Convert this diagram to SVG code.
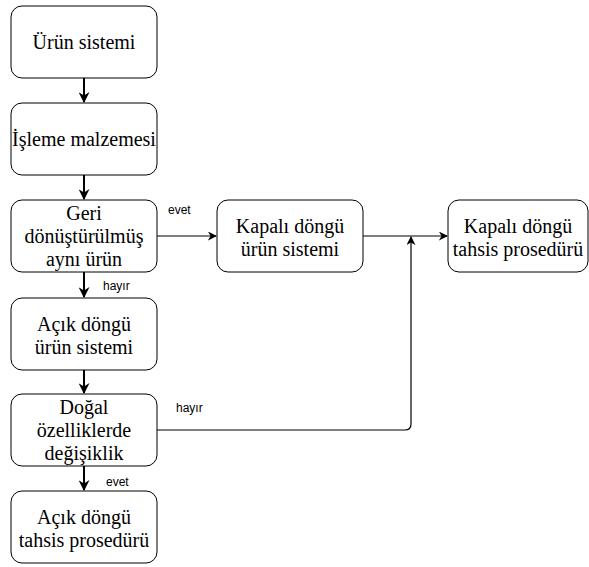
<svg xmlns="http://www.w3.org/2000/svg" width="589" height="567" viewBox="0 0 589 567">
  <defs>
    <!-- filled arrowhead for thin connectors -->
    <marker id="arr" viewBox="0 0 10 10" refX="9" refY="5" markerWidth="9" markerHeight="9" markerUnits="userSpaceOnUse" orient="auto">
      <path d="M0,0 L10,5 L0,10 L3,5 Z" fill="#000"/>
    </marker>
    <!-- filled arrowhead for the thick vertical flow -->
    <marker id="arrB" viewBox="0 0 10 10" refX="9" refY="5" markerWidth="11" markerHeight="11" markerUnits="userSpaceOnUse" orient="auto">
      <path d="M0,0 L10,5 L0,10 L3,5 Z" fill="#000"/>
    </marker>
  </defs>
  <style>
    .box { fill: #fff; stroke: #000; stroke-width: 1; }
    .t { font-family: "Liberation Serif", "Times New Roman", "DejaVu Serif", serif; font-size: 20px; fill: #000; text-anchor: middle; }
    .lbl { font-family: "Liberation Sans", Arial, sans-serif; font-size: 12px; fill: #000; }
    .edge { fill: none; stroke: #000; stroke-width: 1.2; }
    .thick { fill: none; stroke: #000; stroke-width: 2; }
  </style>

  <g id="connectors">
    <path class="thick" d="M84,78 V102" marker-end="url(#arrB)"/>
    <path class="thick" d="M84,175 V199" marker-end="url(#arrB)"/>
    <path class="thick" d="M84,272 V297" marker-end="url(#arrB)"/>
    <path class="thick" d="M84,370 V393" marker-end="url(#arrB)"/>
    <path class="thick" d="M84,466 V490" marker-end="url(#arrB)"/>
    <path class="edge" d="M157,236 H216" marker-end="url(#arr)"/>
    <path class="edge" d="M363,236 H447" marker-end="url(#arr)"/>
    <path class="edge" d="M157,430 H405 Q411,430 411,424 V237" marker-end="url(#arr)"/>
    <text class="lbl" x="168" y="214">evet</text>
    <text class="lbl" x="103" y="290">hayır</text>
    <text class="lbl" x="176" y="412">hayır</text>
    <text class="lbl" x="106" y="486">evet</text>
  </g>

  <g id="urun-sistemi">
    <rect class="box" x="11" y="6" width="146" height="72" rx="11"/>
    <text class="t" x="84" y="49">Ürün sistemi</text>
  </g>
  <g id="isleme-malzemesi">
    <rect class="box" x="11" y="103" width="146" height="72" rx="11"/>
    <text class="t" x="84" y="146">İşleme malzemesi</text>
  </g>
  <g id="geri-donusturulmus">
    <rect class="box" x="11" y="200" width="146" height="72" rx="11"/>
    <text class="t" x="84" y="220">Geri</text>
    <text class="t" x="84" y="243">dönüştürülmüş</text>
    <text class="t" x="84" y="266">aynı ürün</text>
  </g>
  <g id="acik-urun-sistemi">
    <rect class="box" x="11" y="298" width="146" height="72" rx="11"/>
    <text class="t" x="84" y="331">Açık döngü</text>
    <text class="t" x="84" y="354">ürün sistemi</text>
  </g>
  <g id="dogal-ozellikler">
    <rect class="box" x="11" y="394" width="146" height="72" rx="11"/>
    <text class="t" x="84" y="414">Doğal</text>
    <text class="t" x="84" y="437">özelliklerde</text>
    <text class="t" x="84" y="460">değişiklik</text>
  </g>
  <g id="acik-tahsis">
    <rect class="box" x="11" y="491" width="146" height="72" rx="11"/>
    <text class="t" x="84" y="524">Açık döngü</text>
    <text class="t" x="84" y="547">tahsis prosedürü</text>
  </g>
  <g id="kapali-urun-sistemi">
    <rect class="box" x="217" y="200" width="146" height="72" rx="11"/>
    <text class="t" x="290" y="233">Kapalı döngü</text>
    <text class="t" x="290" y="256">ürün sistemi</text>
  </g>
  <g id="kapali-tahsis">
    <rect class="box" x="448" y="200" width="140" height="72" rx="11"/>
    <text class="t" x="518" y="233">Kapalı döngü</text>
    <text class="t" x="518" y="256">tahsis prosedürü</text>
  </g>
</svg>
